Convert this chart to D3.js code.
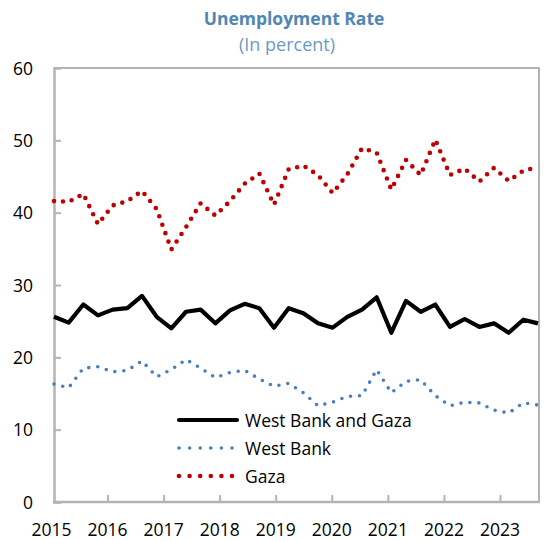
<!DOCTYPE html>
<html>
<head>
<meta charset="utf-8">
<script src="https://cdn.jsdelivr.net/npm/d3@7"></script>
<style>
  body { margin: 0; background: #fff; }
  text { font-family: 'Open Sans', 'Noto Sans', sans-serif; }
</style>
</head>
<body>
<svg width="548" height="541"></svg>
<script>
// quarterly observations, 2015Q1 .. 2023Q2
let quarters = ['2015Q1','2015Q2','2015Q3','2015Q4','2016Q1','2016Q2','2016Q3','2016Q4',
                '2017Q1','2017Q2','2017Q3','2017Q4','2018Q1','2018Q2','2018Q3','2018Q4',
                '2019Q1','2019Q2','2019Q3','2019Q4','2020Q1','2020Q2','2020Q3','2020Q4',
                '2021Q1','2021Q2','2021Q3','2021Q4','2022Q1','2022Q2','2022Q3','2022Q4',
                '2023Q1','2023Q2'];
let westBankGaza = [25.6, 24.8, 27.3, 25.8, 26.6, 26.8, 28.5, 25.6, 24.0, 26.3, 26.6, 24.7,
                    26.5, 27.4, 26.8, 24.1, 26.8, 26.1, 24.7, 24.1, 25.6, 26.6, 28.3, 23.4,
                    27.8, 26.3, 27.3, 24.2, 25.3, 24.2, 24.7, 23.4, 25.2, 24.7];
let westBank = [16.3, 15.8, 18.5, 18.7, 18.0, 18.2, 19.5, 17.3, 18.3, 19.7, 18.5, 17.2,
                17.9, 18.2, 17.0, 16.0, 16.4, 15.1, 13.3, 13.8, 14.6, 14.7, 18.3, 15.1,
                16.7, 16.9, 14.7, 13.3, 13.8, 13.7, 12.7, 12.3, 13.7, 13.4];
let gaza = [41.6, 41.5, 42.6, 38.4, 41.0, 41.6, 43.0, 40.5, 34.9, 38.0, 41.3, 39.6,
            41.6, 44.0, 45.4, 41.1, 46.0, 46.5, 45.2, 42.7, 45.3, 48.9, 48.3, 43.2,
            47.3, 45.2, 50.1, 45.2, 46.1, 44.3, 46.2, 44.4, 45.8, 46.3];
let years = [2015, 2016, 2017, 2018, 2019, 2020, 2021, 2022, 2023];
let yTicks = [0, 10, 20, 30, 40, 50, 60];

let series = [
  {name: 'West Bank and Gaza', values: westBankGaza, color: '#000000', width: 4.2, dash: null},
  {name: 'West Bank', values: westBank, color: '#4a7fbd', width: 3.6, dash: '0,9'},
  {name: 'Gaza', values: gaza, color: '#c00000', width: 4.6, dash: '0,9'}
];

let svg = d3.select('svg');
let plotLeft = 54, plotRight = 539, plotTop = 68, plotBottom = 502;
let axisColor = '#b4b4b4';

let x = d3.scaleLinear().domain([0, quarters.length - 1]).range([plotLeft, 538]);
let xYear = d3.scaleLinear().domain([2015, 2023]).range([51.5, 500]);
let y = d3.scaleLinear().domain([0, 60]).range([plotBottom, plotTop]);

// title
svg.append('text').attr('x', 294).attr('y', 25).attr('text-anchor', 'middle')
   .attr('font-size', '17.5px').attr('font-weight', 'bold').attr('fill', '#4f86b6')
   .text('Unemployment Rate');
svg.append('text').attr('x', 287).attr('y', 51).attr('text-anchor', 'middle')
   .attr('font-size', '18px').attr('fill', '#6b9bc6')
   .text('(In percent)');

// frame (top & right)
svg.append('path')
   .attr('d', 'M' + plotLeft + ',' + plotTop + 'H' + plotRight + 'V' + plotBottom)
   .attr('fill', 'none').attr('stroke', axisColor).attr('stroke-width', 2);

// y axis
let yAxis = svg.append('g').attr('transform', 'translate(' + plotLeft + ',0)')
   .call(d3.axisRight(y).tickValues(yTicks).tickSize(7).tickFormat(''));
yAxis.select('.domain').attr('stroke', axisColor).attr('stroke-width', 2.5);
yAxis.selectAll('.tick line').attr('stroke', axisColor).attr('stroke-width', 2);
yAxis.selectAll('.tick').filter(d => d == 0 || d == 60).remove();

svg.append('g').selectAll('text').data(yTicks).enter().append('text')
   .attr('x', 33).attr('y', d => y(d) + 6.5).attr('text-anchor', 'end')
   .attr('font-size', '17.5px').attr('fill', '#000')
   .text(d => d);

// x axis
let xAxis = svg.append('g').attr('transform', 'translate(0,' + plotBottom + ')')
   .call(d3.axisTop(xYear).tickValues(years.slice(1)).tickSize(7).tickFormat(''));
xAxis.select('.domain').remove();
xAxis.selectAll('.tick line').attr('stroke', axisColor).attr('stroke-width', 2);
svg.append('line').attr('x1', plotLeft - 1).attr('x2', plotRight + 1)
   .attr('y1', plotBottom).attr('y2', plotBottom)
   .attr('stroke', axisColor).attr('stroke-width', 2.5);

svg.append('g').selectAll('text').data(years).enter().append('text')
   .attr('x', d => xYear(d)).attr('y', 536).attr('text-anchor', 'middle')
   .attr('font-size', '17.5px').attr('fill', '#000')
   .text(d => d);

// lines
let line = d3.line().x((d, i) => x(i)).y(d => y(d));
series.slice().reverse().forEach(function(s) {
  let p = svg.append('path').datum(s.values)
     .attr('d', line)
     .attr('fill', 'none')
     .attr('stroke', s.color)
     .attr('stroke-width', s.width)
     .attr('stroke-linejoin', 'round');
  if (s.dash) p.attr('stroke-dasharray', s.dash).attr('stroke-linecap', 'round');
});

// legend
let legend = svg.append('g').selectAll('g').data(series).enter().append('g')
   .attr('transform', (d, i) => 'translate(0,' + (420 + i * 28) + ')');
legend.append('line').attr('x1', 179).attr('x2', 237).attr('y1', 0).attr('y2', 0)
   .attr('stroke', d => d.color).attr('stroke-width', d => d.width)
   .attr('stroke-dasharray', d => d.dash ? '0,10.6' : null)
   .attr('stroke-linecap', 'round');
legend.append('text').attr('x', 245).attr('y', 6.5)
   .attr('font-size', '17.5px').attr('fill', '#000')
   .text(d => d.name);
</script>
</body>
</html>
